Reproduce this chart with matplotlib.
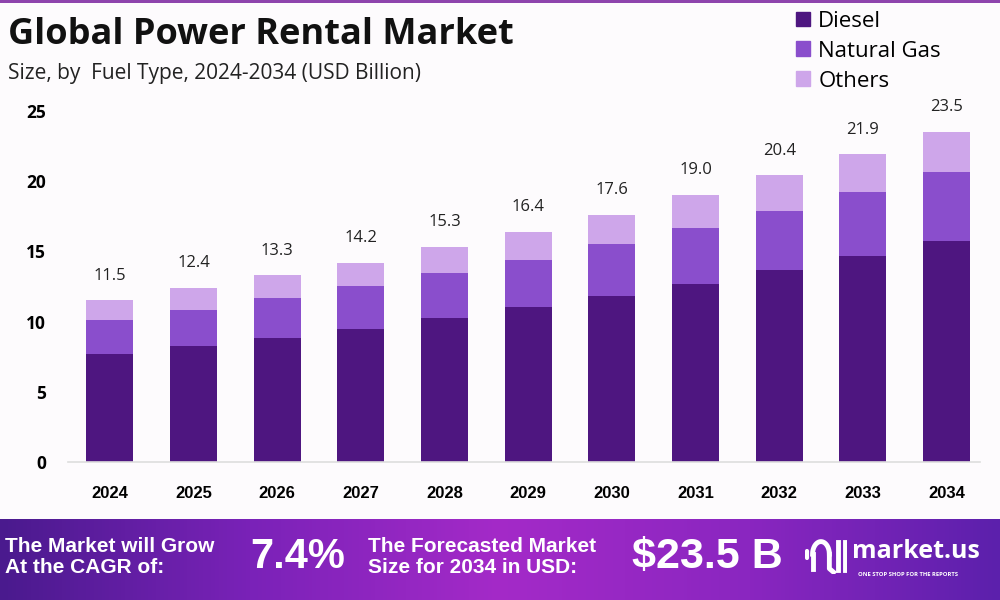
import matplotlib.pyplot as plt
import numpy as np
from matplotlib.patches import Rectangle, Patch
from matplotlib.colors import LinearSegmentedColormap

years = ['2024', '2025', '2026', '2027', '2028', '2029', '2030', '2031', '2032', '2033', '2034']
diesel = [7.7, 8.25, 8.85, 9.5, 10.25, 11.0, 11.8, 12.7, 13.65, 14.65, 15.7]
natural_gas = [2.4, 2.6, 2.8, 3.0, 3.2, 3.4, 3.7, 3.95, 4.2, 4.55, 4.95]
others = [1.4, 1.55, 1.65, 1.7, 1.85, 2.0, 2.1, 2.35, 2.55, 2.7, 2.85]
totals = [11.5, 12.4, 13.3, 14.2, 15.3, 16.4, 17.6, 19.0, 20.4, 21.9, 23.5]

c_diesel = '#4e1680'
c_gas = '#8a4ecc'
c_others = '#cea6ea'

plt.rcParams['font.family'] = ['Open Sans', 'DejaVu Sans']
narrow = ['Liberation Sans Narrow', 'Liberation Sans', 'DejaVu Sans']

fig = plt.figure(figsize=(10, 6), dpi=100)
fig.patch.set_facecolor('#fdfbfd')

# thin line at the very top
fig.add_artist(Rectangle((0, 0.995), 1, 0.005, transform=fig.transFigure,
                         color='#8e44ad', lw=0))

# main chart
ax = fig.add_axes([0.068, 0.23, 0.912, 0.597])
ax.set_facecolor('none')
x = np.arange(len(years))
w = 0.56
b2 = np.array(diesel) + np.array(natural_gas)
ax.bar(x, diesel, w, color=c_diesel, zorder=2)
ax.bar(x, natural_gas, w, bottom=diesel, color=c_gas, zorder=2)
ax.bar(x, others, w, bottom=b2, color=c_others, zorder=2)

for xi, t in zip(x, totals):
    ax.annotate(f'{t:.1f}', (xi, t), xytext=(0, 12), textcoords='offset points',
                ha='center', va='bottom', fontsize=12, color='#222222')

ax.set_xlim(-0.5, 10.4)
ax.set_ylim(0, 25.5)
ax.set_yticks([0, 5, 10, 15, 20, 25])
ax.set_xticks(x, years)
ax.tick_params(length=0)
ax.tick_params(axis='y', pad=16)
ax.tick_params(axis='x', pad=17)
for lbl in ax.get_yticklabels():
    lbl.set_fontweight('bold')
    lbl.set_fontsize(12.5)
for lbl in ax.get_xticklabels():
    lbl.set_fontweight('bold')
    lbl.set_fontsize(12)
    lbl.set_family(narrow)
for s in ['top', 'right', 'left']:
    ax.spines[s].set_visible(False)
ax.spines['bottom'].set_color('#dddddd')
ax.spines['bottom'].set_linewidth(1.2)

# titles
fig.text(0.008, 1 - 35 / 600, 'Global Power Rental Market', fontsize=26,
         fontweight='bold', va='center', color='#111111')
fig.text(0.008, 1 - 73 / 600, 'Size, by  Fuel Type, 2024-2034 (USD Billion)',
         fontsize=15, va='center', color='#222222')

# legend
handles = [Patch(color=c_diesel), Patch(color=c_gas), Patch(color=c_others)]
fig.legend(handles, ['Diesel', 'Natural Gas', 'Others'], loc='upper left',
           bbox_to_anchor=(0.796, 0.982), frameon=False, fontsize=16,
           handlelength=0.65, handleheight=0.65, handletextpad=0.35,
           labelspacing=0.4, borderpad=0, borderaxespad=0)

# bottom banner with gradient
bg = fig.add_axes([0, 0, 1, 0.135], zorder=-1)
cmap = LinearSegmentedColormap.from_list(
    'banner', ['#4a1a8e', '#7a22b8', '#a42ac8', '#8a26c0', '#5c20ac'])
grad = np.linspace(0, 1, 256).reshape(1, -1)
bg.imshow(grad, aspect='auto', cmap=cmap, extent=[0, 1, 0, 1])
bg.axis('off')

fig.text(0.005, 1 - 557 / 600, 'The Market will Grow\nAt the CAGR of:', fontsize=15,
         fontweight='bold', color='white', va='center', linespacing=1.15, family=narrow)
fig.text(0.25, 1 - 557 / 600, '7.4%', fontsize=30, fontweight='bold', color='white',
         va='center', family=narrow)
fig.text(0.368, 1 - 557 / 600, 'The Forecasted Market\nSize for 2034 in USD:', fontsize=15,
         fontweight='bold', color='white', va='center', linespacing=1.15, family=narrow)
fig.text(0.632, 1 - 557 / 600, '$23.5 B', fontsize=31, fontweight='bold', color='white',
         va='center', family=narrow)
fig.text(0.852, 1 - 552 / 600, 'market.us', fontsize=18, fontweight='bold', color='white',
         va='center')
fig.text(0.858, 1 - 574 / 600, 'ONE STOP SHOP FOR THE REPORTS', fontsize=4.2,
         fontweight='bold', color='white', va='center')

# simple logo mark
logo = fig.add_axes([0.805, 1 - 574 / 600, 0.042, 36 / 600])
logo.set_xlim(0, 1)
logo.set_ylim(0, 1)
logo.axis('off')
logo.plot([0.05, 0.05], [0.45, 0.65], color='white', lw=3, solid_capstyle='round')
t = np.linspace(np.pi, 0, 40)
logo.plot(0.38 + 0.2 * np.cos(t), 0.55 + 0.35 * np.sin(t), color='white', lw=3.5)
logo.plot([0.18, 0.18], [0.15, 0.55], color='white', lw=3.5)
logo.plot([0.58, 0.58, 0.68], [0.55, 0.15, 0.05], color='white', lw=3.5)
logo.plot([0.78, 0.78], [0.1, 0.9], color='white', lw=3.5)
logo.plot([0.95, 0.95], [0.1, 0.9], color='white', lw=3.5)

fig.savefig('out.png', dpi=100, facecolor=fig.get_facecolor())
